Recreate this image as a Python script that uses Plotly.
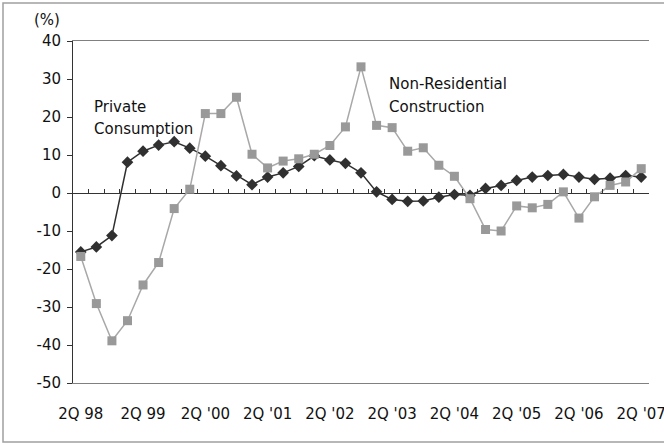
import plotly.graph_objects as go

# ---- data ----
quarters = list(range(37))  # 2Q 98 ... 2Q 07
tick_pos = [0, 4, 8, 12, 16, 20, 24, 28, 32, 36]
tick_labels = ["2Q 98", "2Q 99", "2Q '00", "2Q '01", "2Q '02",
               "2Q '03", "2Q '04", "2Q '05", "2Q '06", "2Q '07"]
y_ticks = [40, 30, 20, 10, 0, -10, -20, -30, -40, -50]
y_tick_labels = ["40", "30", "20", "10", "0", "-10", "-20", "-30", "-40", "-50"]

private_consumption = [
    -15.5, -14.2, -11.2, 8.1, 11.0, 12.6, 13.5, 11.8, 9.7, 7.2,
    4.5, 2.2, 4.2, 5.3, 7.0, 9.8, 8.7, 7.8, 5.3, 0.3,
    -1.7, -2.2, -2.1, -1.1, -0.4, -0.6, 1.2, 2.0, 3.3, 4.2,
    4.6, 4.9, 4.2, 3.6, 3.9, 4.6, 4.2,
]
non_residential = [
    -16.7, -29.1, -38.9, -33.6, -24.2, -18.3, -4.1, 1.0, 20.9, 20.9,
    25.2, 10.2, 6.6, 8.4, 9.0, 10.2, 12.5, 17.4, 33.2, 17.8,
    17.2, 11.0, 11.9, 7.3, 4.4, -1.5, -9.6, -10.0, -3.4, -3.9,
    -3.0, 0.3, -6.6, -1.0, 2.0, 2.9, 6.4,
]

y_min, y_max = -50, 40
FONT = "DejaVu Sans"

W, H = 664, 445
ML, MR, MT, MB = 73, 15, 41, 62
pw, ph = W - ML - MR, H - MT - MB

fig = go.Figure()
fig.add_trace(go.Scatter(
    x=quarters, y=private_consumption, mode="lines+markers",
    name="Private Consumption",
    line=dict(color="#303030", width=1.5),
    marker=dict(symbol="diamond", size=9, color="#303030"),
))
fig.add_trace(go.Scatter(
    x=quarters, y=non_residential, mode="lines+markers",
    name="Non-Residential Construction", xaxis="x2",
    line=dict(color="#a8a8a8", width=1.5),
    marker=dict(symbol="square", size=9, color="#999999"),
))

xr = [-0.5, len(quarters) - 0.5]
fig.update_layout(
    width=W, height=H,
    margin=dict(l=ML, r=MR, t=MT, b=MB, pad=0),
    paper_bgcolor="white", plot_bgcolor="white",
    showlegend=False,
    font=dict(family=FONT, size=15, color="#111"),
    xaxis=dict(
        range=xr, showgrid=False, zeroline=False, automargin=False,
        tickmode="array", tickvals=tick_pos, ticktext=tick_labels,
        ticks="", ticklabelstandoff=17, ticklabeloverflow="allow",
        showline=True, linecolor="#808080", linewidth=1, mirror=True,
        tickfont=dict(size=15),
    ),
    xaxis2=dict(
        range=xr, overlaying="x", anchor="free", automargin=False,
        position=(0 - y_min) / (y_max - y_min),
        showgrid=False, zeroline=False, showline=False,
        tickmode="array",
        tickvals=[q + 0.5 for q in quarters[:-1]],
        ticks="inside", ticklen=4, tickcolor="#333", tickwidth=1,
        showticklabels=False,
    ),
    yaxis=dict(
        range=[y_min, y_max], showgrid=False, automargin=False,
        tickmode="array", tickvals=y_ticks, ticktext=y_tick_labels,
        zeroline=True, zerolinecolor="#333", zerolinewidth=1,
        showline=True, linecolor="#333", linewidth=1,
        ticks="outside", ticklen=5, tickcolor="#333",
        ticklabelstandoff=3, tickfont=dict(size=15),
    ),
)

# annotations
def ann(text, x, y):
    fig.add_annotation(text=text, x=x, y=y, xref="x", yref="y",
                       xanchor="left", yanchor="middle", showarrow=False,
                       font=dict(family=FONT, size=15, color="#111"))

ann("Private", 0.75, 22.7)
ann("Consumption", 0.75, 16.9)
ann("Non-Residential", 19.7, 28.7)
ann("Construction", 19.7, 22.6)

fig.add_annotation(text="(%)", xref="paper", yref="paper",
                   x=(47 - ML) / pw, y=(H - MB - 20) / ph,
                   xanchor="center", yanchor="middle", showarrow=False,
                   font=dict(family=FONT, size=15, color="#111"))

# outer chart border
fig.add_shape(type="rect", xref="paper", yref="paper",
              x0=(3 - ML) / pw, x1=(W + 10 - ML) / pw,
              y0=(H - MB - 442) / ph, y1=(H - MB - 3) / ph,
              line=dict(color="#a0a0a0", width=1.5), layer="below")

fig.write_html("out.html")
